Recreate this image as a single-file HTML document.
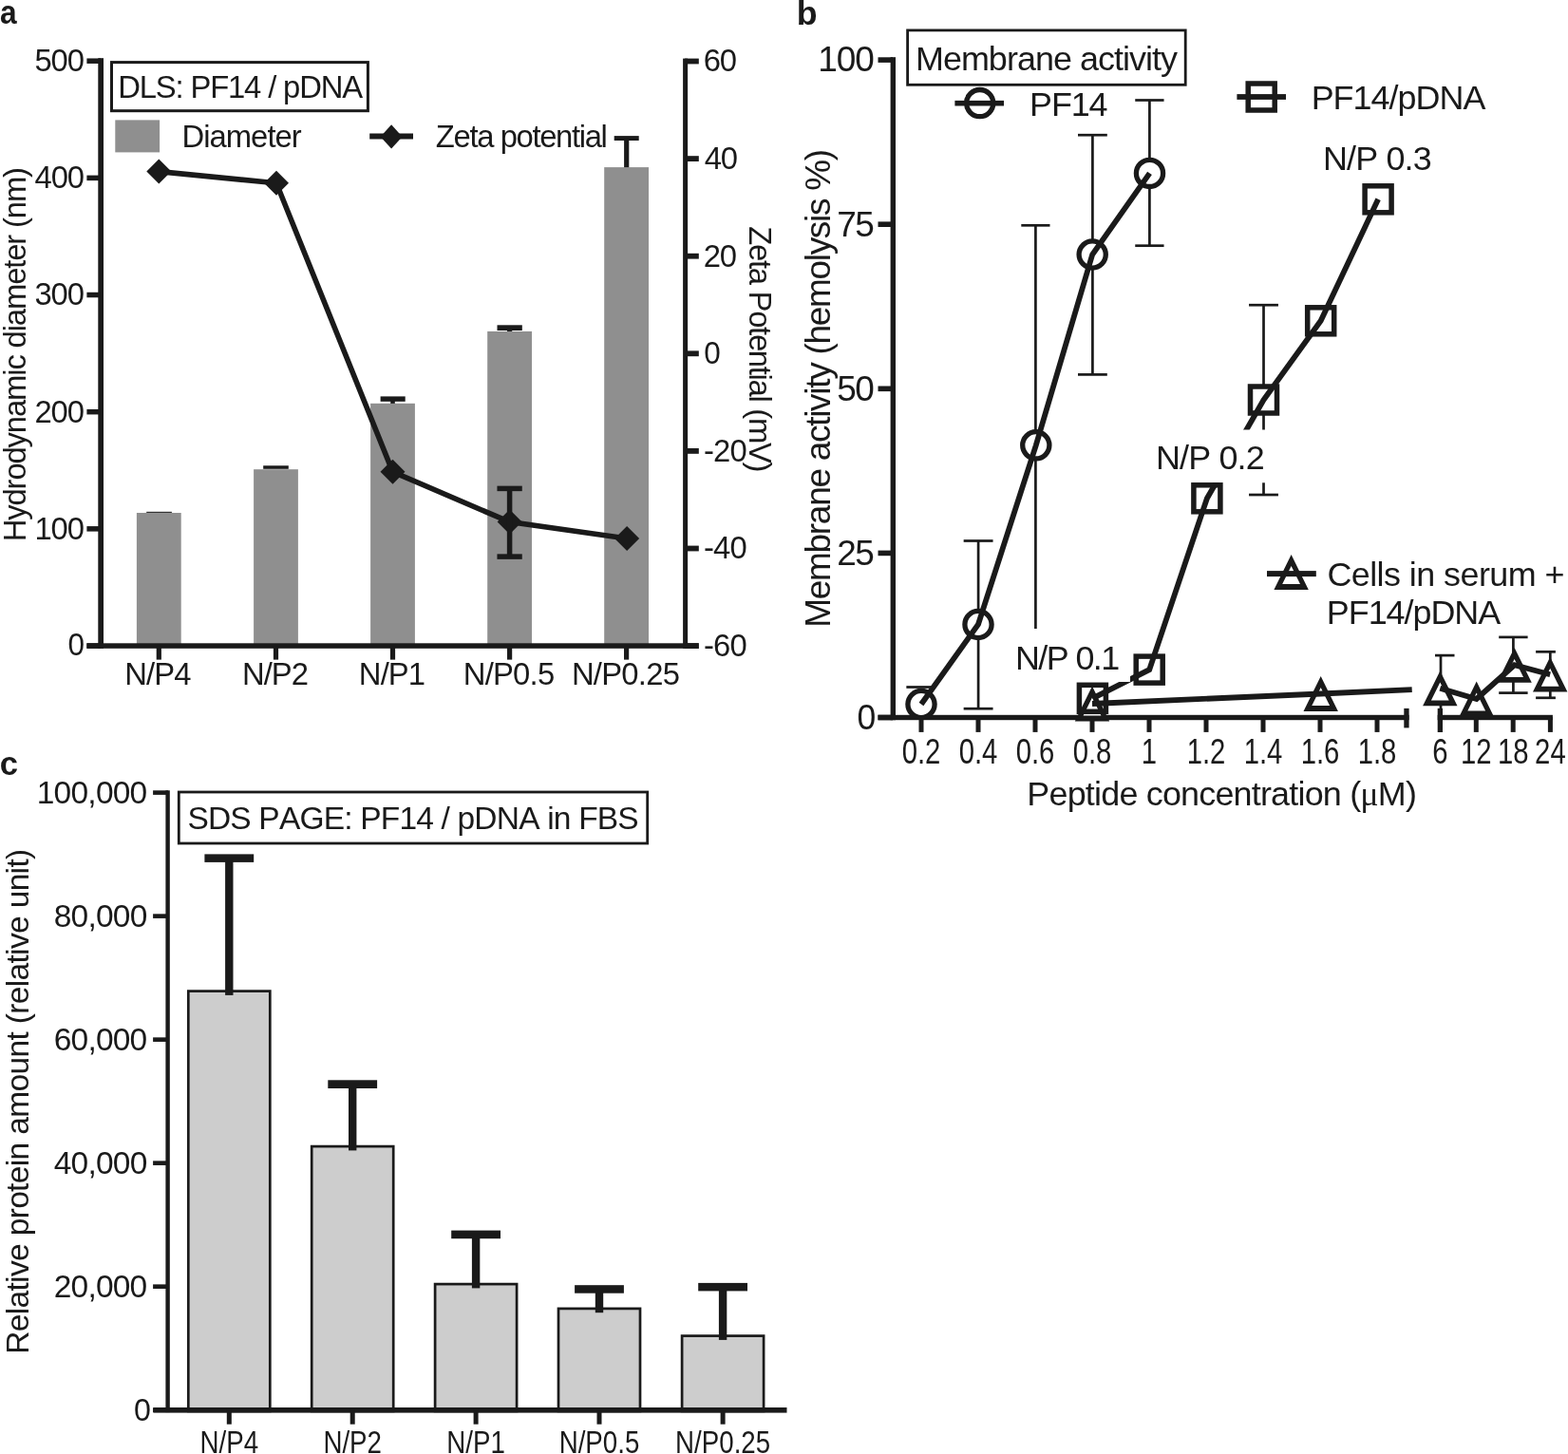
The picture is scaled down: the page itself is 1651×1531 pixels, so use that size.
<!DOCTYPE html>
<html><head><meta charset="utf-8"><title>Figure</title>
<style>
html,body{margin:0;padding:0;background:#fff;}
svg{display:block;}
text{font-family:"Liberation Sans",Arial,sans-serif;font-kerning:none;}
</style></head><body>
<svg width="1651" height="1531" viewBox="0 0 1651 1531">
<rect width="1651" height="1531" fill="#fff"/>
<text transform="translate(-0.03 25.20) scale(0.8954 1)" font-size="35.40" font-weight="bold" fill="#1a1a1a">a</text>
<rect x="154.20" y="538.80" width="26.70" height="1.70" fill="#333"/>
<rect x="277.20" y="490.30" width="26.60" height="3.50" fill="#1a1a1a"/>
<rect x="400.60" y="417.40" width="26.10" height="5.40" fill="#1a1a1a"/>
<rect x="411.20" y="420.00" width="4.60" height="5.00" fill="#1a1a1a"/>
<rect x="523.50" y="342.30" width="26.30" height="5.70" fill="#1a1a1a"/>
<rect x="534.00" y="345.00" width="5.20" height="4.00" fill="#1a1a1a"/>
<rect x="646.70" y="143.10" width="26.00" height="4.90" fill="#1a1a1a"/>
<rect x="657.10" y="145.00" width="5.20" height="32.00" fill="#1a1a1a"/>
<rect x="143.90" y="540.00" width="46.80" height="140.00" fill="#8f8f8f"/>
<rect x="267.10" y="494.20" width="46.80" height="185.80" fill="#8f8f8f"/>
<rect x="390.10" y="424.80" width="46.80" height="255.20" fill="#8f8f8f"/>
<rect x="513.20" y="348.90" width="46.80" height="331.10" fill="#8f8f8f"/>
<rect x="636.20" y="176.10" width="46.80" height="503.90" fill="#8f8f8f"/>
<rect x="103.30" y="61.20" width="5.70" height="621.60" fill="#1a1a1a"/>
<rect x="91.40" y="61.45" width="14.60" height="5.50" fill="#1a1a1a"/>
<rect x="91.40" y="184.61" width="14.60" height="5.50" fill="#1a1a1a"/>
<rect x="91.40" y="307.77" width="14.60" height="5.50" fill="#1a1a1a"/>
<rect x="91.40" y="430.93" width="14.60" height="5.50" fill="#1a1a1a"/>
<rect x="91.40" y="554.09" width="14.60" height="5.50" fill="#1a1a1a"/>
<rect x="91.40" y="677.25" width="14.60" height="5.50" fill="#1a1a1a"/>
<rect x="91.40" y="677.30" width="644.20" height="5.50" fill="#1a1a1a"/>
<rect x="719.10" y="61.60" width="5.00" height="621.20" fill="#1a1a1a"/>
<rect x="721.00" y="61.60" width="14.80" height="5.80" fill="#1a1a1a"/>
<rect x="721.00" y="164.20" width="14.80" height="5.80" fill="#1a1a1a"/>
<rect x="721.00" y="266.80" width="14.80" height="5.80" fill="#1a1a1a"/>
<rect x="721.00" y="369.40" width="14.80" height="5.80" fill="#1a1a1a"/>
<rect x="721.00" y="472.00" width="14.80" height="5.80" fill="#1a1a1a"/>
<rect x="721.00" y="574.60" width="14.80" height="5.80" fill="#1a1a1a"/>
<rect x="721.00" y="677.20" width="14.80" height="5.80" fill="#1a1a1a"/>
<rect x="164.70" y="680.00" width="5.20" height="14.60" fill="#1a1a1a"/>
<rect x="287.90" y="680.00" width="5.20" height="14.60" fill="#1a1a1a"/>
<rect x="410.90" y="680.00" width="5.20" height="14.60" fill="#1a1a1a"/>
<rect x="534.00" y="680.00" width="5.20" height="14.60" fill="#1a1a1a"/>
<rect x="657.00" y="680.00" width="5.20" height="14.60" fill="#1a1a1a"/>
<text x="36.42" y="75.10" font-size="32.80" letter-spacing="-1.030" fill="#1a1a1a">500</text>
<text x="36.44" y="198.26" font-size="32.80" letter-spacing="-1.042" fill="#1a1a1a">400</text>
<text x="36.42" y="321.42" font-size="32.80" letter-spacing="-1.032" fill="#1a1a1a">300</text>
<text x="36.41" y="444.58" font-size="32.80" letter-spacing="-1.024" fill="#1a1a1a">200</text>
<text x="36.38" y="567.74" font-size="32.80" letter-spacing="-1.007" fill="#1a1a1a">100</text>
<text transform="translate(71.51 690.00) scale(0.9605 1)" font-size="32.80" fill="#1a1a1a">0</text>
<text x="740.83" y="75.40" font-size="32.80" letter-spacing="-1.326" fill="#1a1a1a">60</text>
<text x="741.75" y="178.00" font-size="32.80" letter-spacing="-1.362" fill="#1a1a1a">40</text>
<text x="740.85" y="280.60" font-size="32.80" letter-spacing="-1.326" fill="#1a1a1a">20</text>
<text transform="translate(741.27 383.20) scale(0.9605 1)" font-size="32.80" fill="#1a1a1a">0</text>
<text x="741.04" y="485.80" font-size="32.80" letter-spacing="-0.883" fill="#1a1a1a">-20</text>
<text x="741.04" y="588.40" font-size="32.80" letter-spacing="-0.883" fill="#1a1a1a">-40</text>
<text x="741.04" y="691.00" font-size="32.80" letter-spacing="-0.883" fill="#1a1a1a">-60</text>
<text x="131.35" y="720.60" font-size="32.80" letter-spacing="-0.913" fill="#1a1a1a">N/P4</text>
<text x="254.88" y="720.60" font-size="32.80" letter-spacing="-0.904" fill="#1a1a1a">N/P2</text>
<text x="377.86" y="720.60" font-size="32.80" letter-spacing="-0.904" fill="#1a1a1a">N/P1</text>
<text x="487.71" y="720.60" font-size="32.80" letter-spacing="-0.761" fill="#1a1a1a">N/P0.5</text>
<text x="601.95" y="720.60" font-size="32.80" letter-spacing="-0.754" fill="#1a1a1a">N/P0.25</text>
<polyline points="167.30,180.60 291.00,192.80 413.50,496.80 536.60,549.60 660.10,566.90" fill="none" stroke="#1a1a1a" stroke-width="5.6" stroke-linecap="butt" stroke-linejoin="miter"/>
<polygon points="167.3,167.6 180.3,180.6 167.3,193.6 154.3,180.6" fill="#1a1a1a"/>
<polygon points="291.0,179.8 304.0,192.8 291.0,205.8 278.0,192.8" fill="#1a1a1a"/>
<polygon points="413.5,483.8 426.5,496.8 413.5,509.8 400.5,496.8" fill="#1a1a1a"/>
<polygon points="536.6,536.6 549.6,549.6 536.6,562.6 523.6,549.6" fill="#1a1a1a"/>
<polygon points="660.1,553.9 673.1,566.9 660.1,579.9 647.1,566.9" fill="#1a1a1a"/>
<rect x="533.85" y="514.40" width="5.50" height="71.70" fill="#1a1a1a"/>
<rect x="523.45" y="511.65" width="26.30" height="5.50" fill="#1a1a1a"/>
<rect x="523.45" y="583.35" width="26.30" height="5.50" fill="#1a1a1a"/>
<rect x="117.5" y="65.6" width="269.9" height="51.1" fill="none" stroke="#1a1a1a" stroke-width="3"/>
<text x="124.21" y="103.20" font-size="32.80" letter-spacing="-1.159" fill="#1a1a1a">DLS: PF14 / pDNA</text>
<rect x="121.30" y="126.40" width="46.80" height="34.00" fill="#8f8f8f"/>
<text x="191.41" y="155.00" font-size="32.80" letter-spacing="-0.958" fill="#1a1a1a">Diameter</text>
<rect x="389.20" y="140.50" width="45.80" height="6.00" fill="#1a1a1a"/>
<polygon points="412.1,131.20000000000002 423.6,143.9 412.1,156.6 400.6,143.9" fill="#1a1a1a"/>
<text x="458.86" y="154.90" font-size="32.80" letter-spacing="-1.369" fill="#1a1a1a">Zeta potential</text>
<text transform="translate(26.60 570.29) rotate(-90)" font-size="32.80" letter-spacing="-1.140" fill="#1a1a1a">Hydrodynamic diameter (nm)</text>
<text transform="translate(788.80 238.36) rotate(90)" font-size="32.80" letter-spacing="-1.302" fill="#1a1a1a">Zeta Potential (mV)</text>
<text transform="translate(838.75 25.80) scale(1.0091 1)" font-size="35.40" font-weight="bold" fill="#1a1a1a">b</text>
<rect x="937.60" y="60.20" width="5.40" height="698.00" fill="#1a1a1a"/>
<rect x="924.50" y="60.30" width="15.50" height="5.60" fill="#1a1a1a"/>
<rect x="924.50" y="233.40" width="15.50" height="5.60" fill="#1a1a1a"/>
<rect x="924.50" y="406.50" width="15.50" height="5.60" fill="#1a1a1a"/>
<rect x="924.50" y="579.60" width="15.50" height="5.60" fill="#1a1a1a"/>
<rect x="924.50" y="752.70" width="15.50" height="5.60" fill="#1a1a1a"/>
<rect x="924.50" y="752.80" width="559.10" height="5.40" fill="#1a1a1a"/>
<rect x="1478.30" y="745.90" width="5.30" height="20.50" fill="#1a1a1a"/>
<rect x="1513.70" y="752.80" width="121.20" height="5.40" fill="#1a1a1a"/>
<rect x="1513.70" y="745.90" width="5.30" height="25.10" fill="#1a1a1a"/>
<rect x="967.50" y="755.00" width="5.00" height="15.90" fill="#1a1a1a"/>
<rect x="1027.50" y="755.00" width="5.00" height="15.90" fill="#1a1a1a"/>
<rect x="1087.50" y="755.00" width="5.00" height="15.90" fill="#1a1a1a"/>
<rect x="1147.50" y="755.00" width="5.00" height="15.90" fill="#1a1a1a"/>
<rect x="1207.50" y="755.00" width="5.00" height="15.90" fill="#1a1a1a"/>
<rect x="1267.50" y="755.00" width="5.00" height="15.90" fill="#1a1a1a"/>
<rect x="1327.50" y="755.00" width="5.00" height="15.90" fill="#1a1a1a"/>
<rect x="1387.50" y="755.00" width="5.00" height="15.90" fill="#1a1a1a"/>
<rect x="1447.50" y="755.00" width="5.00" height="15.90" fill="#1a1a1a"/>
<rect x="1551.80" y="755.00" width="5.00" height="15.90" fill="#1a1a1a"/>
<rect x="1590.70" y="755.00" width="5.00" height="15.90" fill="#1a1a1a"/>
<rect x="1629.90" y="755.00" width="5.00" height="15.90" fill="#1a1a1a"/>
<text x="861.35" y="75.40" font-size="36.96" letter-spacing="-1.135" fill="#1a1a1a">100</text>
<text x="881.23" y="248.50" font-size="36.96" letter-spacing="-1.489" fill="#1a1a1a">75</text>
<text x="881.14" y="421.60" font-size="36.96" letter-spacing="-1.510" fill="#1a1a1a">50</text>
<text x="881.23" y="594.70" font-size="36.96" letter-spacing="-1.491" fill="#1a1a1a">25</text>
<text transform="translate(902.54 767.80) scale(0.9605 1)" font-size="36.96" fill="#1a1a1a">0</text>
<text transform="translate(949.65 804.20) scale(0.8058 1)" font-size="36.34" fill="#1a1a1a">0.2</text>
<text transform="translate(1009.65 804.20) scale(0.8058 1)" font-size="36.34" fill="#1a1a1a">0.4</text>
<text transform="translate(1069.65 804.20) scale(0.8058 1)" font-size="36.34" fill="#1a1a1a">0.6</text>
<text transform="translate(1129.65 804.20) scale(0.8058 1)" font-size="36.34" fill="#1a1a1a">0.8</text>
<text transform="translate(1201.86 804.20) scale(0.8058 1)" font-size="36.34" fill="#1a1a1a">1</text>
<text transform="translate(1249.65 804.20) scale(0.8058 1)" font-size="36.34" fill="#1a1a1a">1.2</text>
<text transform="translate(1309.65 804.20) scale(0.8058 1)" font-size="36.34" fill="#1a1a1a">1.4</text>
<text transform="translate(1369.65 804.20) scale(0.8058 1)" font-size="36.34" fill="#1a1a1a">1.6</text>
<text transform="translate(1429.65 804.20) scale(0.8058 1)" font-size="36.34" fill="#1a1a1a">1.8</text>
<text transform="translate(1508.16 804.20) scale(0.8058 1)" font-size="36.34" fill="#1a1a1a">6</text>
<text transform="translate(1538.02 804.20) scale(0.8058 1)" font-size="36.34" fill="#1a1a1a">12</text>
<text transform="translate(1576.92 804.20) scale(0.8058 1)" font-size="36.34" fill="#1a1a1a">18</text>
<text transform="translate(1616.12 804.20) scale(0.8058 1)" font-size="36.34" fill="#1a1a1a">24</text>
<text x="1081.35" y="848.20" font-size="35.92" letter-spacing="-0.795" fill="#1a1a1a">Peptide concentration (<tspan font-family="Liberation Serif, serif">μ</tspan>M)</text>
<text transform="translate(874.00 660.73) rotate(-90)" font-size="36.96" letter-spacing="-1.277" fill="#1a1a1a">Membrane activity (hemolysis %)</text>
<rect x="966.65" y="723.50" width="2.70" height="0.00" fill="#1a1a1a"/>
<rect x="954.35" y="722.15" width="27.30" height="2.70" fill="#1a1a1a"/>
<rect x="1028.75" y="569.50" width="2.70" height="176.70" fill="#1a1a1a"/>
<rect x="1014.65" y="568.15" width="30.90" height="2.70" fill="#1a1a1a"/>
<rect x="1014.65" y="744.85" width="30.90" height="2.70" fill="#1a1a1a"/>
<rect x="1089.05" y="237.30" width="2.70" height="424.70" fill="#1a1a1a"/>
<rect x="1075.30" y="235.95" width="30.20" height="2.70" fill="#1a1a1a"/>
<rect x="1149.05" y="142.20" width="2.70" height="252.20" fill="#1a1a1a"/>
<rect x="1135.00" y="140.85" width="30.80" height="2.70" fill="#1a1a1a"/>
<rect x="1135.00" y="393.05" width="30.80" height="2.70" fill="#1a1a1a"/>
<rect x="1209.05" y="105.50" width="2.70" height="153.20" fill="#1a1a1a"/>
<rect x="1195.25" y="104.15" width="30.30" height="2.70" fill="#1a1a1a"/>
<rect x="1195.25" y="257.35" width="30.30" height="2.70" fill="#1a1a1a"/>
<rect x="1329.15" y="321.20" width="2.70" height="199.80" fill="#1a1a1a"/>
<rect x="1315.05" y="319.85" width="30.90" height="2.70" fill="#1a1a1a"/>
<rect x="1315.05" y="519.65" width="30.90" height="2.70" fill="#1a1a1a"/>
<rect x="1515.65" y="690.10" width="2.70" height="61.90" fill="#1a1a1a"/>
<rect x="1511.00" y="688.75" width="20.50" height="2.70" fill="#1a1a1a"/>
<rect x="1592.05" y="670.90" width="2.70" height="58.70" fill="#1a1a1a"/>
<rect x="1578.20" y="669.55" width="30.40" height="2.70" fill="#1a1a1a"/>
<rect x="1578.20" y="728.25" width="30.40" height="2.70" fill="#1a1a1a"/>
<rect x="1630.95" y="686.30" width="2.70" height="48.50" fill="#1a1a1a"/>
<rect x="1617.10" y="684.95" width="20.80" height="2.70" fill="#1a1a1a"/>
<rect x="1617.10" y="733.45" width="20.80" height="2.70" fill="#1a1a1a"/>
<circle cx="970.0" cy="741.5" r="14.1" fill="#fff"/>
<circle cx="1030.0" cy="657.5" r="14.1" fill="#fff"/>
<circle cx="1090.8" cy="468.8" r="14.1" fill="#fff"/>
<circle cx="1150.2" cy="268.0" r="14.1" fill="#fff"/>
<circle cx="1210.5" cy="182.4" r="14.1" fill="#fff"/>
<rect x="1136.30" y="721.20" width="28.2" height="28.2" fill="#fff"/>
<rect x="1196.10" y="691.00" width="28.2" height="28.2" fill="#fff"/>
<rect x="1256.80" y="510.70" width="28.2" height="28.2" fill="#fff"/>
<rect x="1316.40" y="406.90" width="28.2" height="28.2" fill="#fff"/>
<rect x="1376.60" y="323.70" width="28.2" height="28.2" fill="#fff"/>
<rect x="1437.00" y="195.70" width="28.2" height="28.2" fill="#fff"/>
<polygon points="1150.0,729.0 1162.5,756.0 1137.5,756.0" fill="#fff"/>
<polygon points="1390.7,718.5 1403.2,745.5 1378.2,745.5" fill="#fff"/>
<polygon points="1516.3,712.8 1528.8,739.8 1503.8,739.8" fill="#fff"/>
<polygon points="1554.7,724.0 1567.2,751.0 1542.2,751.0" fill="#fff"/>
<polygon points="1594.6,688.3 1607.1,715.3 1582.1,715.3" fill="#fff"/>
<polygon points="1632.2,698.2 1644.7,725.2 1619.7,725.2" fill="#fff"/>
<polyline points="970.00,741.50 1030.00,657.50 1090.80,468.80 1150.20,268.00 1210.50,182.40" fill="none" stroke="#1a1a1a" stroke-width="5.8" stroke-linecap="butt" stroke-linejoin="miter"/>
<polyline points="1150.40,735.30 1210.20,705.10 1270.90,524.80 1330.50,421.00 1390.70,337.80 1451.10,209.80" fill="none" stroke="#1a1a1a" stroke-width="5.8" stroke-linecap="butt" stroke-linejoin="miter"/>
<polyline points="1150.00,741.00 1390.70,730.50 1486.70,726.10" fill="none" stroke="#1a1a1a" stroke-width="5.8" stroke-linecap="butt" stroke-linejoin="miter"/>
<polyline points="1516.30,724.80 1554.70,736.00 1594.60,700.30 1632.20,710.20" fill="none" stroke="#1a1a1a" stroke-width="5.8" stroke-linecap="butt" stroke-linejoin="miter"/>
<rect x="1062.00" y="663.50" width="128.00" height="54.50" fill="#ffffff"/>
<rect x="1208.00" y="452.50" width="134.00" height="55.80" fill="#ffffff"/>
<circle cx="970.0" cy="741.5" r="14.1" fill="none" stroke="#1a1a1a" stroke-width="5.3"/>
<circle cx="1030.0" cy="657.5" r="14.1" fill="none" stroke="#1a1a1a" stroke-width="5.3"/>
<circle cx="1090.8" cy="468.8" r="14.1" fill="none" stroke="#1a1a1a" stroke-width="5.3"/>
<circle cx="1150.2" cy="268.0" r="14.1" fill="none" stroke="#1a1a1a" stroke-width="5.3"/>
<circle cx="1210.5" cy="182.4" r="14.1" fill="none" stroke="#1a1a1a" stroke-width="5.3"/>
<rect x="1136.40" y="721.30" width="28.0" height="28.0" fill="none" stroke="#1a1a1a" stroke-width="5.5"/>
<rect x="1196.20" y="691.10" width="28.0" height="28.0" fill="none" stroke="#1a1a1a" stroke-width="5.5"/>
<rect x="1256.90" y="510.80" width="28.0" height="28.0" fill="none" stroke="#1a1a1a" stroke-width="5.5"/>
<rect x="1316.50" y="407.00" width="28.0" height="28.0" fill="none" stroke="#1a1a1a" stroke-width="5.5"/>
<rect x="1376.70" y="323.80" width="28.0" height="28.0" fill="none" stroke="#1a1a1a" stroke-width="5.5"/>
<rect x="1437.10" y="195.80" width="28.0" height="28.0" fill="none" stroke="#1a1a1a" stroke-width="5.5"/>
<path d="M1150.00,722.60 L1168.20,759.40 L1131.80,759.40Z M1150.00,734.60 L1159.40,753.60 L1140.60,753.60Z" fill="#1a1a1a" fill-rule="evenodd"/>
<path d="M1390.70,712.10 L1408.90,748.90 L1372.50,748.90Z M1390.70,724.10 L1400.10,743.10 L1381.30,743.10Z" fill="#1a1a1a" fill-rule="evenodd"/>
<path d="M1516.30,706.40 L1534.50,743.20 L1498.10,743.20Z M1516.30,718.40 L1525.70,737.40 L1506.90,737.40Z" fill="#1a1a1a" fill-rule="evenodd"/>
<path d="M1554.70,717.60 L1572.90,754.40 L1536.50,754.40Z M1554.70,729.60 L1564.10,748.60 L1545.30,748.60Z" fill="#1a1a1a" fill-rule="evenodd"/>
<path d="M1594.60,681.90 L1612.80,718.70 L1576.40,718.70Z M1594.60,693.90 L1604.00,712.90 L1585.20,712.90Z" fill="#1a1a1a" fill-rule="evenodd"/>
<path d="M1632.20,691.80 L1650.40,728.60 L1614.00,728.60Z M1632.20,703.80 L1641.60,722.80 L1622.80,722.80Z" fill="#1a1a1a" fill-rule="evenodd"/>
<text x="1068.95" y="704.80" font-size="35.92" letter-spacing="-1.582" fill="#1a1a1a">N/P 0.1</text>
<text x="1217.05" y="493.50" font-size="35.92" letter-spacing="-0.857" fill="#1a1a1a">N/P 0.2</text>
<text x="1392.95" y="179.00" font-size="35.92" letter-spacing="-0.828" fill="#1a1a1a">N/P 0.3</text>
<rect x="955.6" y="31.9" width="292.6" height="57.4" fill="none" stroke="#1a1a1a" stroke-width="2.8"/>
<text x="963.95" y="73.80" font-size="35.92" letter-spacing="-0.952" fill="#1a1a1a">Membrane activity</text>
<rect x="1005.40" y="105.90" width="51.60" height="5.60" fill="#1a1a1a"/>
<circle cx="1031.7" cy="108.6" r="14.1" fill="none" stroke="#1a1a1a" stroke-width="5.3"/>
<text x="1084.05" y="122.10" font-size="35.92" letter-spacing="-1.118" fill="#1a1a1a">PF14</text>
<rect x="1302.40" y="99.10" width="51.60" height="5.80" fill="#1a1a1a"/>
<rect x="1314.20" y="88.00" width="28.0" height="28.0" fill="none" stroke="#1a1a1a" stroke-width="5.5"/>
<text x="1380.65" y="114.50" font-size="35.92" letter-spacing="-0.979" fill="#1a1a1a">PF14/pDNA</text>
<rect x="1334.00" y="601.10" width="51.80" height="6.00" fill="#1a1a1a"/>
<path d="M1359.60,584.10 L1377.80,620.90 L1341.40,620.90Z M1359.60,596.10 L1369.00,615.10 L1350.20,615.10Z" fill="#1a1a1a" fill-rule="evenodd"/>
<text x="1397.38" y="616.50" font-size="35.92" letter-spacing="-0.554" fill="#1a1a1a">Cells in serum +</text>
<text x="1396.85" y="657.20" font-size="35.92" letter-spacing="-1.029" fill="#1a1a1a">PF14/pDNA</text>
<text transform="translate(-0.35 815.60) scale(0.9787 1)" font-size="35.40" font-weight="bold" fill="#1a1a1a">c</text>
<rect x="198.30" y="1043.60" width="86.0" height="442.30" fill="#cdcdcd" stroke="#1a1a1a" stroke-width="2.7"/>
<rect x="237.10" y="906.90" width="8.40" height="141.00" fill="#1a1a1a"/>
<rect x="215.40" y="899.40" width="51.80" height="8.50" fill="#1a1a1a"/>
<rect x="328.20" y="1207.10" width="86.0" height="278.80" fill="#cdcdcd" stroke="#1a1a1a" stroke-width="2.7"/>
<rect x="367.00" y="1145.00" width="8.40" height="66.40" fill="#1a1a1a"/>
<rect x="345.30" y="1137.30" width="51.80" height="8.70" fill="#1a1a1a"/>
<rect x="458.10" y="1352.10" width="86.0" height="133.80" fill="#cdcdcd" stroke="#1a1a1a" stroke-width="2.7"/>
<rect x="496.90" y="1303.20" width="8.40" height="53.20" fill="#1a1a1a"/>
<rect x="475.20" y="1295.60" width="51.80" height="8.60" fill="#1a1a1a"/>
<rect x="588.00" y="1377.90" width="86.0" height="108.00" fill="#cdcdcd" stroke="#1a1a1a" stroke-width="2.7"/>
<rect x="626.80" y="1360.70" width="8.40" height="21.50" fill="#1a1a1a"/>
<rect x="605.10" y="1353.20" width="51.80" height="8.50" fill="#1a1a1a"/>
<rect x="718.10" y="1406.60" width="86.0" height="79.30" fill="#cdcdcd" stroke="#1a1a1a" stroke-width="2.7"/>
<rect x="756.90" y="1358.40" width="8.40" height="52.50" fill="#1a1a1a"/>
<rect x="735.20" y="1350.90" width="51.80" height="8.50" fill="#1a1a1a"/>
<rect x="174.40" y="832.30" width="4.40" height="654.80" fill="#1a1a1a"/>
<rect x="161.10" y="832.30" width="15.90" height="4.60" fill="#1a1a1a"/>
<rect x="161.10" y="962.32" width="15.90" height="4.60" fill="#1a1a1a"/>
<rect x="161.10" y="1092.34" width="15.90" height="4.60" fill="#1a1a1a"/>
<rect x="161.10" y="1222.36" width="15.90" height="4.60" fill="#1a1a1a"/>
<rect x="161.10" y="1352.38" width="15.90" height="4.60" fill="#1a1a1a"/>
<rect x="161.10" y="1482.40" width="15.90" height="4.60" fill="#1a1a1a"/>
<rect x="161.40" y="1482.00" width="667.10" height="5.60" fill="#1a1a1a"/>
<rect x="238.80" y="1484.00" width="5.00" height="15.70" fill="#1a1a1a"/>
<rect x="368.70" y="1484.00" width="5.00" height="15.70" fill="#1a1a1a"/>
<rect x="498.60" y="1484.00" width="5.00" height="15.70" fill="#1a1a1a"/>
<rect x="628.50" y="1484.00" width="5.00" height="15.70" fill="#1a1a1a"/>
<rect x="758.60" y="1484.00" width="5.00" height="15.70" fill="#1a1a1a"/>
<text x="38.76" y="846.20" font-size="33.53" letter-spacing="-0.773" fill="#1a1a1a">100,000</text>
<text x="56.71" y="976.22" font-size="33.53" letter-spacing="-0.789" fill="#1a1a1a">80,000</text>
<text x="56.70" y="1106.24" font-size="33.53" letter-spacing="-0.787" fill="#1a1a1a">60,000</text>
<text x="56.74" y="1236.26" font-size="33.53" letter-spacing="-0.794" fill="#1a1a1a">40,000</text>
<text x="56.70" y="1366.28" font-size="33.53" letter-spacing="-0.787" fill="#1a1a1a">20,000</text>
<text transform="translate(140.95 1496.30) scale(0.9605 1)" font-size="33.53" fill="#1a1a1a">0</text>
<text transform="translate(210.52 1529.60) scale(0.8260 1)" font-size="33.53" fill="#1a1a1a">N/P4</text>
<text transform="translate(340.42 1529.60) scale(0.8260 1)" font-size="33.53" fill="#1a1a1a">N/P2</text>
<text transform="translate(470.32 1529.60) scale(0.8260 1)" font-size="33.53" fill="#1a1a1a">N/P1</text>
<text transform="translate(588.67 1529.60) scale(0.8260 1)" font-size="33.53" fill="#1a1a1a">N/P0.5</text>
<text transform="translate(711.07 1529.60) scale(0.8260 1)" font-size="33.53" fill="#1a1a1a">N/P0.25</text>
<rect x="188.3" y="834.0" width="493.4" height="54.0" fill="none" stroke="#1a1a1a" stroke-width="2.8"/>
<text x="197.38" y="872.90" font-size="33.53" letter-spacing="-0.815" fill="#1a1a1a">SDS PAGE: PF14 / pDNA in FBS</text>
<text transform="translate(29.60 1425.85) rotate(-90)" font-size="33.53" letter-spacing="-0.656" fill="#1a1a1a">Relative protein amount (relative unit)</text>
</svg>
</body></html>
